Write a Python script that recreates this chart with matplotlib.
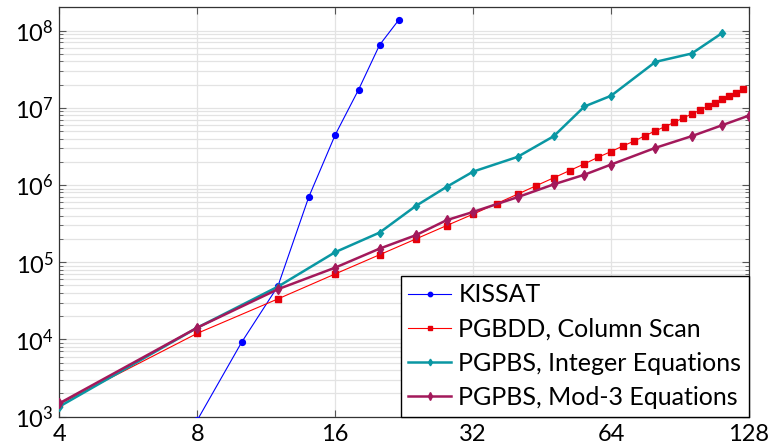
import matplotlib
matplotlib.use("Agg")
import matplotlib.pyplot as plt
from matplotlib.ticker import FixedLocator, FixedFormatter, LogLocator, NullFormatter

plt.rcParams['font.family'] = ['Lato', 'DejaVu Sans']
plt.rcParams['mathtext.fontset'] = 'custom'
plt.rcParams['mathtext.rm'] = 'Lato'

# ---- data ----
kissat_n = [8, 10, 12, 14, 16, 18, 20, 22]
kissat_v = [9.0e2, 9.2e3, 4.9e4, 6.9e5, 4.45e6, 1.72e7, 6.5e7, 1.36e8]

pgbdd_n = [4, 8, 12, 16, 20, 24, 28, 32, 36, 40, 44, 48, 52, 56, 60, 64, 68, 72,
           76, 80, 84, 88, 92, 96, 100, 104, 108, 112, 116, 120, 124]
pgbdd_v = [1.45e3, 1.20e4, 3.35e4, 7.05e4, 1.25e5, 2.0e5, 2.98e5, 4.19e5, 5.74e5,
           7.6e5, 9.83e5, 1.24e6, 1.54e6, 1.88e6, 2.29e6, 2.71e6, 3.21e6, 3.72e6,
           4.36e6, 5.02e6, 5.71e6, 6.5e6, 7.4e6, 8.3e6, 9.3e6, 1.05e7, 1.16e7,
           1.28e7, 1.41e7, 1.56e7, 1.76e7]

int_n = [4, 8, 12, 16, 20, 24, 28, 32, 40, 48, 56, 64, 80, 96, 112]
int_v = [1.35e3, 1.42e4, 4.83e4, 1.35e5, 2.42e5, 5.36e5, 9.45e5, 1.49e6, 2.31e6,
         4.29e6, 1.04e7, 1.43e7, 3.93e7, 5.04e7, 9.33e7]

mod3_n = [4, 8, 12, 16, 20, 24, 28, 32, 40, 48, 56, 64, 80, 96, 112, 128]
mod3_v = [1.49e3, 1.42e4, 4.47e4, 8.51e4, 1.50e5, 2.24e5, 3.50e5, 4.48e5, 6.95e5,
          1.02e6, 1.36e6, 1.84e6, 3.03e6, 4.29e6, 5.96e6, 7.93e6]

x_ticks = [4, 8, 16, 32, 64, 128]
x_tick_labels = ['4', '8', '16', '32', '64', '128']
y_ticks = [1e3, 1e4, 1e5, 1e6, 1e7, 1e8]
y_tick_labels = [r'$\mathregular{10^{3}}$', r'$\mathregular{10^{4}}$',
                 r'$\mathregular{10^{5}}$', r'$\mathregular{10^{6}}$',
                 r'$\mathregular{10^{7}}$', r'$\mathregular{10^{8}}$']
labels = ['KISSAT', 'PGBDD, Column Scan', 'PGPBS, Integer Equations',
          'PGPBS, Mod-3 Equations']

# ---- figure ----
fig = plt.figure(figsize=(7.72, 4.47), dpi=100)
ax = fig.add_axes([0.0768, 0.0678, 0.9702 - 0.0768, 0.9837 - 0.0678])

cyan = '#0a97a3'
purple = '#a3195b'

ax.plot(kissat_n, kissat_v, color='#0000ff', lw=0.8, marker='o', ms=4.2,
        label=labels[0], zorder=3)
ax.plot(pgbdd_n, pgbdd_v, color='#ff0000', lw=0.8, marker='s', ms=4.0,
        mfc='#e6000a', mec='#e6000a', label=labels[1], zorder=3)
ax.plot(int_n, int_v, color=cyan, lw=1.8, marker='d', ms=4.5,
        label=labels[2], zorder=3)
ax.plot(mod3_n, mod3_v, color=purple, lw=1.8, marker='d', ms=5,
        label=labels[3], zorder=3)

ax.set_xscale('log', base=2)
ax.set_yscale('log')
ax.set_xlim(4, 128)
ax.set_ylim(1e3, 2.0e8)

ax.xaxis.set_major_locator(FixedLocator(x_ticks))
ax.xaxis.set_major_formatter(FixedFormatter(x_tick_labels))
ax.xaxis.set_minor_locator(FixedLocator([]))
ax.yaxis.set_major_locator(FixedLocator(y_ticks))
ax.yaxis.set_major_formatter(FixedFormatter(y_tick_labels))
ax.yaxis.set_minor_locator(LogLocator(base=10, subs=range(2, 10), numticks=20))
ax.yaxis.set_minor_formatter(NullFormatter())

ax.grid(True, which='major', color='#e3e3e3', lw=0.9, zorder=0)
ax.grid(True, which='minor', axis='y', color='#e3e3e3', lw=0.9, zorder=0)
ax.set_axisbelow(True)

ax.tick_params(which='both', direction='in', top=True, right=True,
               color='#555555', labelsize=17)
ax.tick_params(which='major', length=5, width=0.8)
ax.tick_params(which='minor', length=3, width=0.6)
ax.tick_params(axis='x', pad=5)
ax.tick_params(axis='y', pad=4)
for s in ax.spines.values():
    s.set_color('#333333')
    s.set_linewidth(0.9)

leg = ax.legend(loc='lower right', fontsize=18, frameon=True, fancybox=False,
                framealpha=1, edgecolor='black', borderaxespad=0,
                handlelength=1.7, handletextpad=0.3, labelspacing=0.45,
                borderpad=0.3, markerscale=0.75)
leg.get_frame().set_linewidth(1.0)

fig.savefig('out.png', dpi=100)
